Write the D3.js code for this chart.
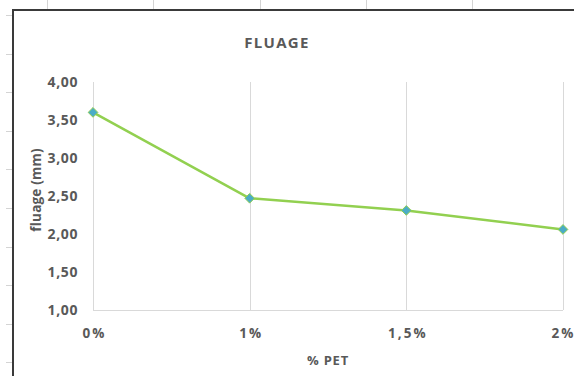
<!DOCTYPE html>
<html>
<head>
<meta charset="utf-8">
<script src="https://cdn.jsdelivr.net/npm/d3@7/dist/d3.min.js"></script>
<style>
  html, body { margin: 0; padding: 0; background: #fff; }
  svg { display: block; }
  text { font-family: "Open Sans", "DejaVu Sans", sans-serif; fill: #595959; font-weight: bold; }
</style>
</head>
<body>
<script>
// Creep (fluage) measured against PET content
const categories = ["0%", "1%", "1,5%", "2%"];
const fluage = [3.60, 2.47, 2.31, 2.06];
const yTicks = [1.0, 1.5, 2.0, 2.5, 3.0, 3.5, 4.0];

const W = 574, H = 376;
const svg = d3.select("body").append("svg").attr("width", W).attr("height", H);

// Spreadsheet cell boundaries visible around the chart object
const sheet = svg.append("g").attr("stroke", "#d4d4d4").attr("stroke-width", 1);
[47, 153, 260, 366, 472].forEach(x => sheet.append("line")
  .attr("x1", x + 0.5).attr("x2", x + 0.5).attr("y1", 0).attr("y2", 9));
d3.range(15, H, 38.6).forEach(y => sheet.append("line")
  .attr("x1", 6).attr("x2", 12).attr("y1", Math.round(y) + 0.5).attr("y2", Math.round(y) + 0.5));

// Chart area frame
svg.append("rect").attr("x", 13).attr("y", 10).attr("width", W + 10).attr("height", H + 10)
  .attr("fill", "#fff").attr("stroke", "#3a3a3a").attr("stroke-width", 2);

const x = d3.scalePoint().domain(categories).range([93, 563]);
const y = d3.scaleLinear().domain([1, 4]).range([310, 82]);

// Vertical gridlines at each category
svg.append("g").selectAll("line").data(categories).join("line")
  .attr("x1", d => Math.round(x(d)) + 0.5).attr("x2", d => Math.round(x(d)) + 0.5)
  .attr("y1", y(4)).attr("y2", y(1))
  .attr("stroke", "#d9d9d9").attr("stroke-width", 1);

// Horizontal axis line
svg.append("line").attr("x1", x(categories[0])).attr("x2", x(categories[3]))
  .attr("y1", Math.round(y(1)) + 0.5).attr("y2", Math.round(y(1)) + 0.5)
  .attr("stroke", "#d9d9d9").attr("stroke-width", 1);

// Y axis labels
const yAxis = d3.axisLeft(y).tickValues(yTicks).tickSize(0).tickPadding(0)
  .tickFormat(d => d3.format(".2f")(d).replace(".", ","));
svg.append("g").attr("transform", "translate(78,0)").call(yAxis)
  .call(g => g.select(".domain").remove())
  .selectAll("text").style("font-size", "14px").style("letter-spacing", "0.6px").attr("dy", "0.35em")
  .style("font-family", "'Open Sans', sans-serif").style("font-weight", "bold").attr("fill", "#595959");

// X axis labels
const xAxis = d3.axisBottom(x).tickSize(0).tickPadding(0);
svg.append("g").attr("transform", "translate(0,333)").call(xAxis)
  .call(g => g.select(".domain").remove())
  .selectAll("text").attr("dy", "0.35em").style("font-size", "13.5px")
  .style("letter-spacing", "2px").style("font-weight", "bold")
  .style("font-family", "'Open Sans', sans-serif").attr("fill", "#595959")
  .attr("text-anchor", (d, i) => i === categories.length - 1 ? "end" : "middle")
  .attr("dx", (d, i) => i === categories.length - 1 ? "12px" : "1px");

// Line
svg.append("path").datum(fluage)
  .attr("fill", "none").attr("stroke", "#92D050").attr("stroke-width", 2.5)
  .attr("stroke-linejoin", "round")
  .attr("d", d3.line().x((d, i) => x(categories[i])).y(d => y(d)));

// Diamond markers
svg.append("g").selectAll("path").data(fluage).join("path")
  .attr("transform", (d, i) => `translate(${x(categories[i])},${y(d)})`)
  .attr("d", d3.symbol(d3.symbolDiamond2, 60)())
  .attr("fill", "#4BACC6").attr("stroke", "#92D050").attr("stroke-width", 1);

// Titles
svg.append("text").attr("x", 277).attr("y", 43).attr("dy", "0.35em")
  .attr("text-anchor", "middle").style("font-size", "15px").style("letter-spacing", "1.3px")
  .text("FLUAGE");
svg.append("text").attr("x", 328).attr("y", 360).attr("dy", "0.35em")
  .attr("text-anchor", "middle").style("font-size", "13px").style("letter-spacing", "0.8px")
  .text("% PET");
svg.append("text").attr("transform", "translate(36,190) rotate(-90)").attr("dy", "0.35em")
  .attr("text-anchor", "middle").style("font-size", "13.5px").style("letter-spacing", "0.2px")
  .text("fluage (mm)");
</script>
</body>
</html>
